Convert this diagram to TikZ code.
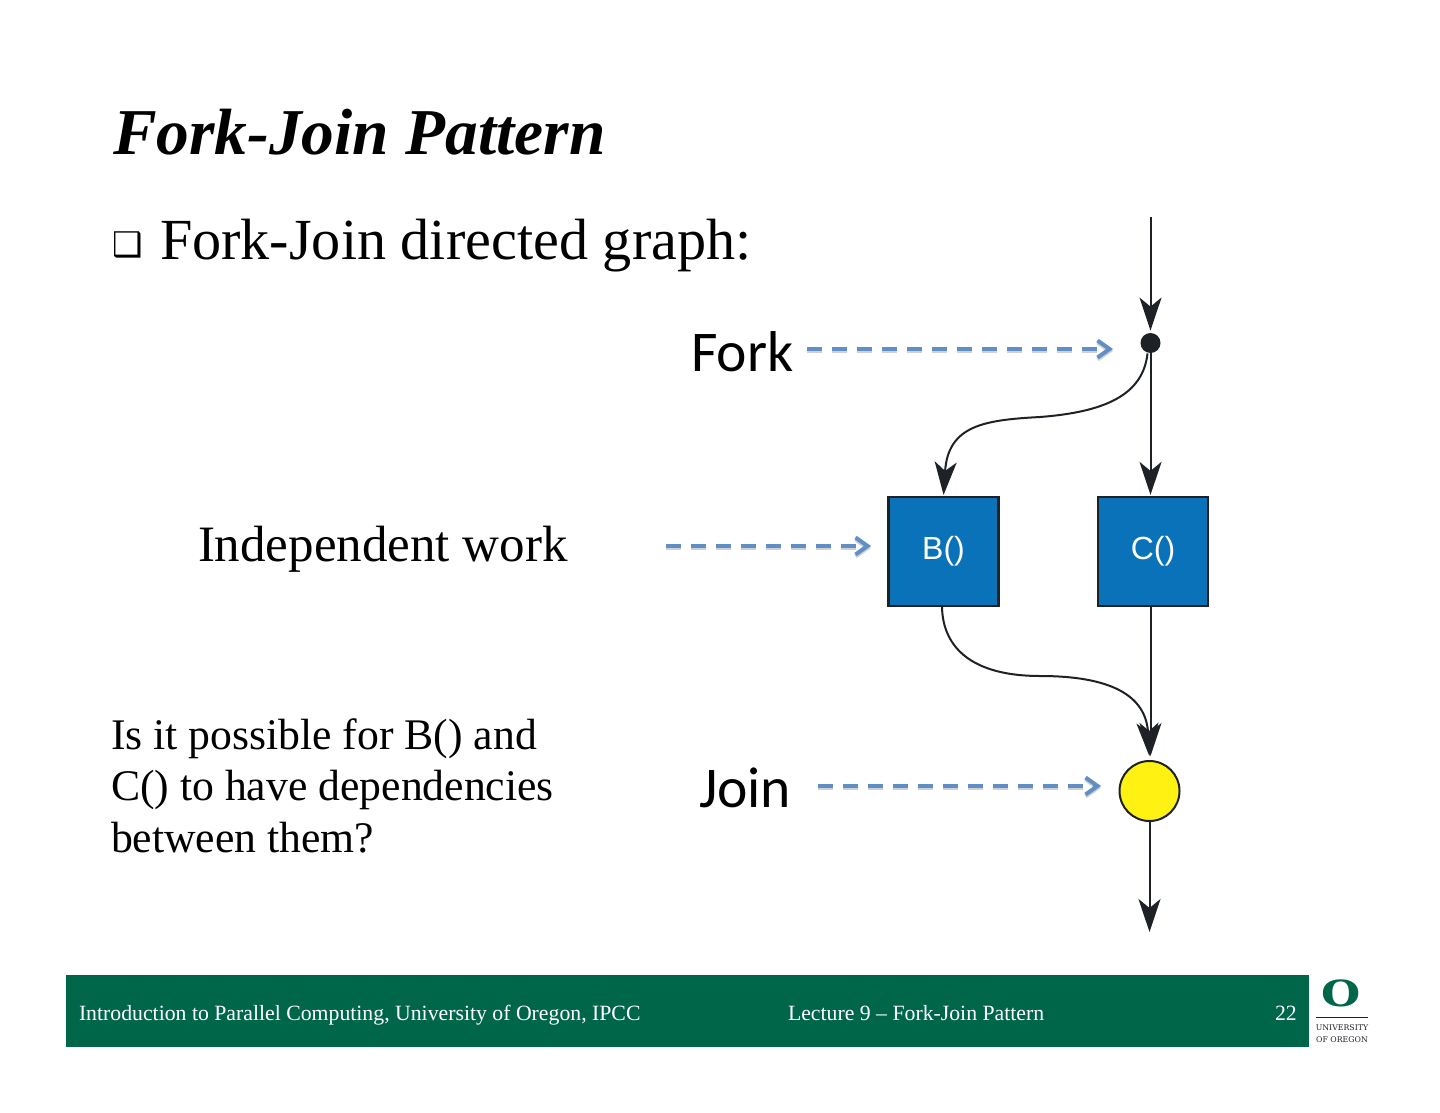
\documentclass[tikz,border=0pt]{standalone}
\usepackage{fontspec}
\setmainfont{Liberation Serif}
\newfontfamily\labelfont{Carlito}
\newfontfamily\boxfont{Liberation Sans}
\newfontfamily\symbolfont{DejaVu Sans}
\newfontfamily\logofont{DejaVu Serif}
\usetikzlibrary{positioning, arrows.meta, calc}
\definecolor{oregongreen}{HTML}{00664A}
\definecolor{workblue}{HTML}{0A72B8}
\definecolor{hintblue}{HTML}{5F8FC4}
\definecolor{inkblack}{HTML}{1E2126}
\definecolor{joinyellow}{HTML}{FFF212}

\begin{document}
\begin{tikzpicture}[
    x=0.5pt, y=-0.5pt,
    >={Stealth[length=16.5pt, width=11pt, inset=4.5pt]},
    txt/.style={anchor=base west, inner sep=0pt, outer sep=0pt},
    bodytxt/.style={txt, font=\fontsize{21.85}{25.5}\selectfont},
    foottxt/.style={txt, text=white, font=\fontsize{10.88}{13}\selectfont},
    logotxt/.style={anchor=base, inner sep=0pt, text=inkblack, font=\logofont\fontsize{3.9}{5}\selectfont},
    workbox/.style={draw=inkblack, line width=1.1pt, fill=workblue, minimum width=55pt, minimum height=54.5pt, inner sep=0pt, text=white, font=\boxfont\fontsize{16}{19}\selectfont},
    forkdot/.style={circle, fill=inkblack, minimum size=10pt, inner sep=0pt},
    joindot/.style={draw=inkblack, circle, line width=1pt, fill=joinyellow, minimum size=30pt, inner sep=0pt},
    flowarrow/.style={->, line width=1pt, inkblack},
    hintarrow/.style={-{Straight Barb[length=6pt, width=8.5pt, line width=2pt]}, line width=2pt, hintblue, dash pattern=on 7.5pt off 5pt,
        preaction={draw=black!18, line width=2pt, dash pattern=on 7.5pt off 5pt, transform canvas={yshift=-1pt}}}
]

\useasboundingbox (0, 0) rectangle (1440, 1113);

% Title & text
\node[txt, font=\fontsize{32.7}{38}\selectfont\bfseries\itshape] (title) at (113, 155) {Fork-Join Pattern};
\node[txt, font=\symbolfont\bfseries\fontsize{17}{20}\selectfont] (bullet) at (112, 256) {❑};
\node[txt, font=\fontsize{29.1}{34}\selectfont] (subtitle) at (160, 259) {Fork-Join directed graph:};
\node[txt, font=\fontsize{25.5}{30}\selectfont] (indep) at (198, 561) {Independent work};
\node[bodytxt] (questiona) at (111, 749) {Is it possible for B() and};
\node[bodytxt] (questionb) at (111, 800) {C() to have dependencies};
\node[bodytxt] (questionc) at (111, 852) {between them?};
\node[txt, font=\labelfont\fontsize{28.8}{34}\selectfont] (forklabel) at (691, 371) {Fork};
\node[txt, font=\labelfont\fontsize{28.8}{34}\selectfont] (joinlabel) at (699, 807) {Join};

% Fork, work boxes & join
\coordinate (start) at (1150.5, 217);
\coordinate (finish) at (1149.5, 932);
\node[forkdot] (fork) at (1150.5, 343) {};
\node[workbox] (B) at (943.5, 551.5) {B()};
\node[workbox] (C) at (1153, 551.5) {C()};
\node[joindot] (join) at (1149.5, 791) {};

% Flow
\draw[flowarrow, shorten >=1pt] (start) -- (fork.north);
\draw[flowarrow, shorten >=0.5pt] (fork.center) -- (C.north -| fork.center);
\draw[flowarrow, shorten >=0.5pt] (fork.south) ++(-3, 0) .. controls (1143, 395) and (1105, 412) .. (1040, 417) .. controls (985, 420) and (948, 425) .. (B.north);
\draw[flowarrow, shorten >=2pt] (B.south) ++(-1.5, 0) .. controls (943, 650) and (975, 676) .. (1040, 676) .. controls (1110, 676) and (1146, 695) .. (join.north);
\draw[flowarrow, shorten >=2pt] (C.south -| fork.center) -- (join.north -| fork.center);
\draw[flowarrow] (join.south) -- (finish);

% Hints
\coordinate (forktip) at (1113, 349);
\coordinate (indeptip) at (871, 546);
\coordinate (jointip) at (1101, 786);
\draw[hintarrow] ([xshift=7pt]forklabel.east |- forktip) -- (forktip);
\draw[hintarrow, shorten <=49pt] (indep.east |- indeptip) -- (indeptip);
\draw[hintarrow] ([xshift=13.5pt]joinlabel.east |- jointip) -- (jointip);

% Footer
\fill[oregongreen] (66, 975) rectangle (1309, 1047);
\node[foottxt] (course) at (79, 1020) {Introduction to Parallel Computing, University of Oregon, IPCC};
\node[foottxt] (lecture) at (788, 1020) {Lecture 9 – Fork-Join Pattern};
\node[foottxt] (page) at (1275, 1020) {22};

% Logo
\node[anchor=base, inner sep=0pt, xscale=1.25, text=oregongreen, font=\logofont\bfseries\fontsize{18}{20}\selectfont] (logo) at (1341, 1006) {O};
\draw[line width=0.5pt, inkblack] (1316, 1017) -- (1368, 1017);
\node[logotxt] (logotop) at (1342, 1030) {UNIVERSITY};
\node[logotxt] (logobottom) at (1342, 1042) {OF OREGON};

\end{tikzpicture}
\end{document}
